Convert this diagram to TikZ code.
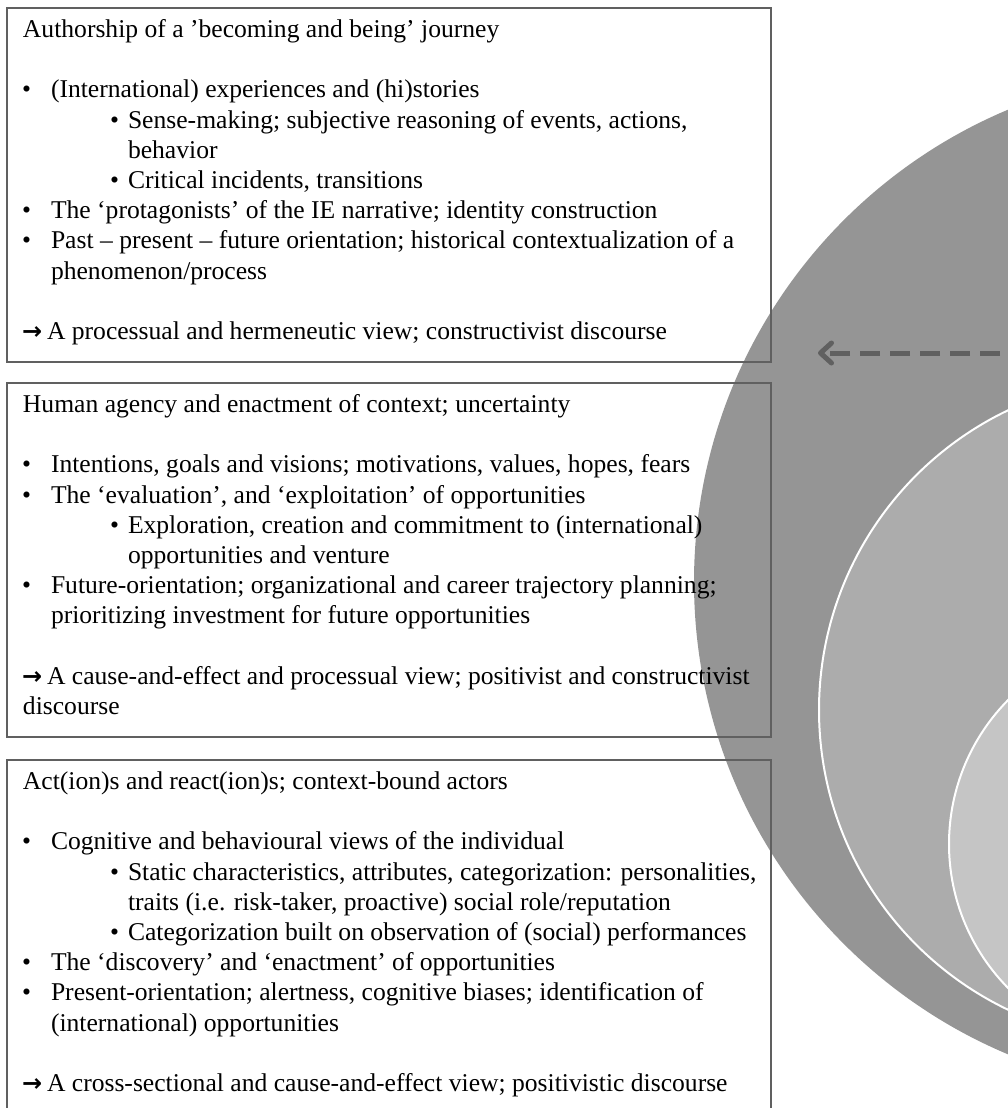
\documentclass[tikz,border=0pt]{standalone}
\usepackage{fontspec}
\setmainfont{Liberation Serif}
\newfontfamily\arrowfont{DejaVu Sans}
\usetikzlibrary{arrows.meta}
\definecolor{ringouter}{RGB}{149,149,149}
\definecolor{ringmid}{RGB}{172,172,172}
\definecolor{ringinner}{RGB}{197,197,197}
\definecolor{framegrey}{RGB}{96,96,96}
\definecolor{arrowgrey}{RGB}{96,96,96}
% one line of text: name, x, baseline y, text
\newcommand\txtline[4]{\node[txt] (#1) at (#2,#3) {#4};}
% the "leads to" arrow that opens each summary line
\newcommand\leadsline[4]{\node[txt] (#1a) at (#2,#3) {\arrowfont\bfseries\fontsize{24}{24}\selectfont →};
  \node[txt] (#1) at (#2+25,#3) {#4};}
\begin{document}
\begin{tikzpicture}[x=1pt,y=-1pt,
  txt/.style={anchor=base west, inner sep=0pt, outer sep=0pt, font=\fontsize{25.6}{30}\selectfont},
  panel/.style={draw=framegrey, line width=2pt, anchor=north west, minimum width=764pt, inner sep=0pt, outer sep=0pt},
  ring/.style={draw=white, line width=2pt}]
\useasboundingbox (0,0) rectangle (1008,1108);
\clip (0,0) rectangle (1008,1108);

% nested rings on the right
\fill[ringouter] (1206,582) circle[radius=512pt];
\filldraw[ring, fill=ringmid] (1151,710) circle[radius=332pt];
\filldraw[ring, fill=ringinner] (1154,844) circle[radius=205pt];

% dashed pointer towards the panels
\coordinate (arrowstart) at (1000,353);
\coordinate (arrowtip) at (818,353);
\draw[arrowgrey, line width=5pt, line cap=butt, dash pattern=on 20pt off 10pt,
  -{Straight Barb[length=11pt, width=20pt, line cap=round, line join=round]}] (arrowstart) -- (arrowtip);

% three framed panels
\node[panel, minimum height=354pt] (panelA) at (7,8) {};
\node[panel, minimum height=354pt] (panelB) at (7,383) {};
\node[panel, minimum height=360pt] (panelC) at (7,760) {};

% panel A
\txtline{a0}{23}{37.5}{Authorship of a ’becoming and being’ journey}
\txtline{a1b}{22}{97.9}{•}
\txtline{a1}{51}{97.9}{(International) experiences and (hi)stories}
\txtline{a2b}{110}{128.1}{•}
\txtline{a2}{128}{128.1}{Sense-making; subjective reasoning of events, actions,}
\txtline{a3}{128}{158.3}{behavior}
\txtline{a4b}{110}{188.5}{•}
\txtline{a4}{128}{188.5}{Critical incidents, transitions}
\txtline{a5b}{22}{218.7}{•}
\txtline{a5}{51}{218.7}{The ‘protagonists’ of the IE narrative; identity construction}
\txtline{a6b}{22}{248.9}{•}
\txtline{a6}{51}{248.9}{Past – present – future orientation; historical contextualization of a}
\txtline{a7}{51}{279.1}{phenomenon/process}
\leadsline{a8}{22}{339.5}{A processual and hermeneutic view; constructivist discourse}

% panel B
\txtline{b0}{23}{412.5}{Human agency and enactment of context; uncertainty}
\txtline{b1b}{22}{472.9}{•}
\txtline{b1}{51}{472.9}{Intentions, goals and visions; motivations, values, hopes, fears}
\txtline{b2b}{22}{503.1}{•}
\txtline{b2}{51}{503.1}{The ‘evaluation’, and ‘exploitation’ of opportunities}
\txtline{b3b}{110}{533.3}{•}
\txtline{b3}{128}{533.3}{Exploration, creation and commitment to (international)}
\txtline{b4}{128}{563.5}{opportunities and venture}
\txtline{b5b}{22}{593.7}{•}
\txtline{b5}{51}{593.7}{Future-orientation; organizational and career trajectory planning;}
\txtline{b6}{51}{623.9}{prioritizing investment for future opportunities}
\leadsline{b7}{22}{684.3}{A cause-and-effect and processual view; positivist and constructivist}
\txtline{b8}{23}{714.5}{discourse}

% panel C
\txtline{c0}{23}{789.5}{Act(ion)s and react(ion)s; context-bound actors}
\txtline{c1b}{22}{849.9}{•}
\txtline{c1}{51}{849.9}{Cognitive and behavioural views of the individual}
\txtline{c2b}{110}{880.1}{•}
\txtline{c2}{128}{880.1}{Static characteristics, attributes, categorization: personalities,}
\txtline{c3}{128}{910.3}{traits (i.e. risk-taker, proactive) social role/reputation}
\txtline{c4b}{110}{940.5}{•}
\txtline{c4}{128}{940.5}{Categorization built on observation of (social) performances}
\txtline{c5b}{22}{970.7}{•}
\txtline{c5}{51}{970.7}{The ‘discovery’ and ‘enactment’ of opportunities}
\txtline{c6b}{22}{1000.9}{•}
\txtline{c6}{51}{1000.9}{Present-orientation; alertness, cognitive biases; identification of}
\txtline{c7}{51}{1031.1}{(international) opportunities}
\leadsline{c8}{22}{1091.5}{A cross-sectional and cause-and-effect view; positivistic discourse}
\end{tikzpicture}
\end{document}
